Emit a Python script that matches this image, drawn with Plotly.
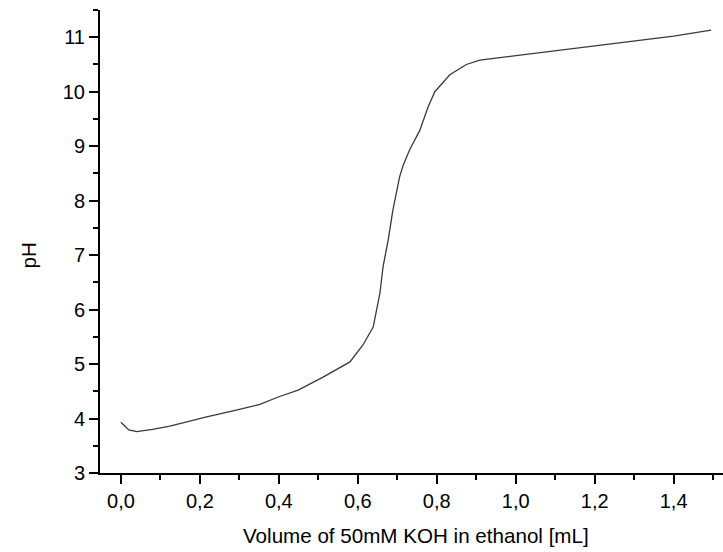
import plotly.graph_objects as go

volume_ml = [0.0, 0.02, 0.04, 0.08, 0.124, 0.166, 0.217, 0.284, 0.352, 0.40, 0.449, 0.512,
             0.553, 0.58, 0.613, 0.622, 0.639, 0.656, 0.664, 0.677, 0.689, 0.706, 0.715,
             0.731, 0.757, 0.778, 0.795, 0.833, 0.875, 0.909, 0.985, 1.111, 1.238,
             1.40, 1.495]
ph = [3.93, 3.79, 3.76, 3.80, 3.86, 3.94, 4.03, 4.14, 4.26, 4.40, 4.52, 4.76,
      4.92, 5.04, 5.35, 5.47, 5.68, 6.30, 6.79, 7.28, 7.83, 8.44, 8.65,
      8.93, 9.29, 9.72, 10.0, 10.31, 10.50, 10.58, 10.65, 10.76, 10.87,
      11.02, 11.13]

x_title = "Volume of 50mM KOH in ethanol [mL]"
y_title = "pH"

fig = go.Figure()
fig.add_trace(go.Scatter(x=volume_ml, y=ph, mode="lines",
                         line=dict(color="#3a3a3a", width=1.3), showlegend=False))

font = "Liberation Sans, Arial, sans-serif"
fig.update_layout(
    width=723, height=552,
    margin=dict(l=100, r=0, t=10, b=79, autoexpand=False),
    plot_bgcolor="white", paper_bgcolor="white",
    separators=",.",
    font=dict(family=font, size=20, color="black"),
)
fig.update_xaxes(
    range=[-0.053, 1.525], tickmode="linear", tick0=0, dtick=0.2, tickformat=".1f",
    ticks="outside", ticklen=9, tickwidth=2, tickcolor="black",
    showline=True, linewidth=2, linecolor="black", mirror=False,
    showgrid=False, zeroline=False, automargin=False,
    minor=dict(tickmode="linear", tick0=0, dtick=0.1, ticks="outside", ticklen=5,
               tickwidth=2, tickcolor="black", showgrid=False),
    tickfont=dict(size=20),
)
fig.update_yaxes(
    range=[3, 11.5], tickmode="linear", tick0=3, dtick=1,
    ticks="outside", ticklen=9, tickwidth=2, tickcolor="black",
    showline=True, linewidth=2, linecolor="black", mirror=False,
    showgrid=False, zeroline=False, automargin=False,
    minor=dict(tickmode="linear", tick0=3, dtick=0.5, ticks="outside", ticklen=5,
               tickwidth=2, tickcolor="black", showgrid=False),
    tickfont=dict(size=20),
)
fig.add_annotation(text=x_title, xref="paper", yref="paper", x=0.5, y=0,
                   xanchor="center", yanchor="middle", yshift=-62, xshift=4,
                   showarrow=False, font=dict(size=20.6))
fig.add_annotation(text=y_title, xref="paper", yref="paper", x=0, y=0.47,
                   xanchor="center", yanchor="middle", xshift=-72, textangle=-90,
                   showarrow=False, font=dict(size=20.6))
fig.write_html("out.html", config={"displayModeBar": False},
               post_script="document.body.style.margin='0px';document.body.style.overflow='hidden';")
